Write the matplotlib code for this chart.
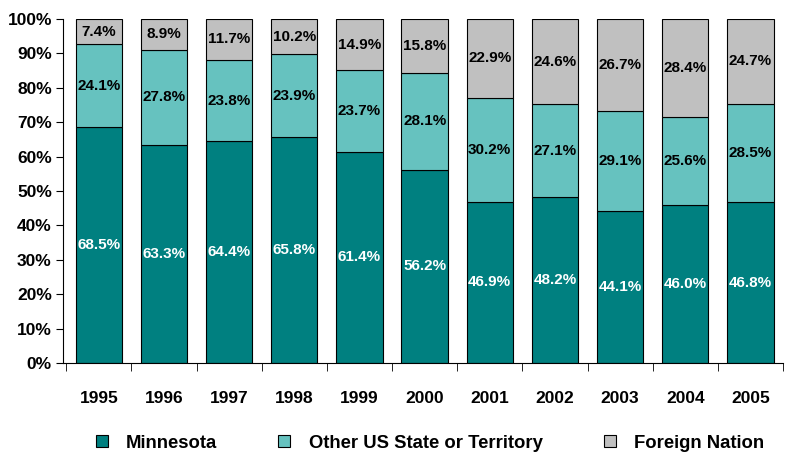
import matplotlib.pyplot as plt
import numpy as np

plt.rcParams['font.family'] = ['Liberation Sans', 'DejaVu Sans']
plt.rcParams['font.weight'] = 'bold'

years = ['1995', '1996', '1997', '1998', '1999', '2000', '2001', '2002', '2003', '2004', '2005']
minnesota = [68.5, 63.3, 64.4, 65.8, 61.4, 56.2, 46.9, 48.2, 44.1, 46.0, 46.8]
other_us = [24.1, 27.8, 23.8, 23.9, 23.7, 28.1, 30.2, 27.1, 29.1, 25.6, 28.5]
foreign = [7.4, 8.9, 11.7, 10.2, 14.9, 15.8, 22.9, 24.6, 26.7, 28.4, 24.7]

colors = ['#008080', '#66C2BF', '#C0C0C0']

fig = plt.figure(figsize=(7.86, 4.54), dpi=100)
ax = fig.add_axes([63 / 786, 1 - 363 / 454, 720 / 786, 344 / 454])

x = np.arange(len(years))
mn = np.array(minnesota)
ot = np.array(other_us)
fo = np.array(foreign)

w = 0.71
b1 = ax.bar(x, mn, w, color=colors[0], edgecolor='black', linewidth=0.8, label='Minnesota')
b2 = ax.bar(x, ot, w, bottom=mn, color=colors[1], edgecolor='black', linewidth=0.8,
            label='Other US State or Territory')
b3 = ax.bar(x, fo, w, bottom=mn + ot, color=colors[2], edgecolor='black', linewidth=0.8,
            label='Foreign Nation')

for i in range(len(years)):
    ax.text(x[i], mn[i] / 2, f'{mn[i]:.1f}%', ha='center', va='center', color='white',
            fontsize=11, fontweight='bold')
    ax.text(x[i], mn[i] + ot[i] / 2, f'{ot[i]:.1f}%', ha='center', va='center', color='black',
            fontsize=11, fontweight='bold')
    ax.text(x[i], mn[i] + ot[i] + fo[i] / 2, f'{fo[i]:.1f}%', ha='center', va='center',
            color='black', fontsize=11, fontweight='bold')

ax.set_xlim(-0.55, len(years) - 0.5)
ax.set_ylim(0, 100)
ax.set_yticks(np.arange(0, 101, 10))
ax.set_yticklabels([f'{v}%' for v in range(0, 101, 10)], fontsize=12.5, fontweight='bold')
ax.set_xticks(x)
ax.set_xticklabels(years, fontsize=12.5, fontweight='bold')
ax.tick_params(axis='x', length=0, pad=20)
ax.set_xticks(np.arange(-0.5, len(years)), minor=True)
ax.tick_params(axis='x', which='minor', length=6, direction='out')
ax.tick_params(axis='y', length=5, direction='out', pad=3)

ax.spines['top'].set_visible(False)
ax.spines['right'].set_visible(False)

fig.legend(handles=[b1, b2, b3], loc='center', bbox_to_anchor=(430 / 786, 11 / 454), ncol=3,
           frameon=False, fontsize=13.3, handlelength=0.65, handleheight=0.65,
           columnspacing=3.3, handletextpad=1.0, borderpad=0)

fig.savefig('out.png', dpi=100)
